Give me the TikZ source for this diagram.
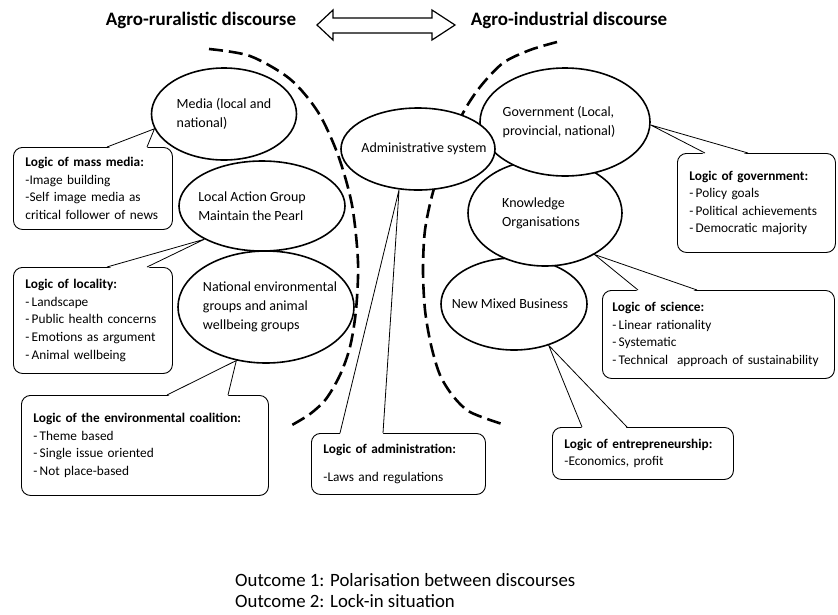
\documentclass[tikz,border=0pt]{standalone}
\usepackage{fontspec}
\setmainfont{Carlito}
\usetikzlibrary{calc,shapes.geometric}

\tikzset{
  party/.style={draw, ellipse, line width=1.6pt, fill=white, inner sep=0pt},
  partytext/.style={align=left, inner sep=0pt, font=\fontsize{14}{19}\selectfont},
  logicbox/.style={draw, line width=0.9pt, rounded corners=9pt, fill=white,
    anchor=north west, align=left, inner xsep=12pt,
    font=\fontsize{13.3}{17.6}\selectfont},
  tipline/.style={line width=0.8pt},
  divide/.style={line width=2.6pt, dash pattern=on 14pt off 6pt},
  discourse/.style={font=\fontsize{19}{23}\selectfont\bfseries},
  outcome/.style={align=left, inner sep=0pt, font=\fontsize{18.8}{21}\selectfont},
}

% pointer of a callout: box, left offset, right offset, tip
\newcommand{\calloutptr}[4]{%
  \fill[white] ($(#1.north west)+(#2,1.5)$) -- (#4) -- ($(#1.north west)+(#3,1.5)$) -- cycle;
  \draw[tipline] ($(#1.north west)+(#2,0)$) -- (#4) -- ($(#1.north west)+(#3,0)$);
}

\begin{document}
\begin{tikzpicture}[x=1pt, y=-1pt]
    \useasboundingbox (0,0) rectangle (838,614);

    % Dashed borders of the two discourses
    \draw[divide] plot[smooth] coordinates {(209,49) (250,56) (290,79) (318,112)
      (338,155) (352,205) (358,262) (356,310) (350,347) (340,375) (326,399)
      (310,414) (292,425)};
    \draw[divide] plot[smooth] coordinates {(557,42) (530,50) (503,63) (480,87)
      (463,113) (447,150) (433,192) (425,230) (423,270) (425,310) (431,345)
      (440,375) (453,396) (470,412) (502,424)};

    % Logic boxes
    \node[logicbox, text width=135pt, minimum height=82pt] (massmedia) at (13,147)
      {\textbf{Logic of mass media:}\\-Image building\\-Self image media as\\critical follower of news};
    \node[logicbox, text width=135pt, minimum height=106pt] (locality) at (13,267)
      {\textbf{Logic of locality:}\\-\,Landscape\\-\,Public health concerns\\-\,Emotions as argument\\-\,Animal wellbeing};
    \node[logicbox, text width=223pt, minimum height=100pt] (coalition) at (21,395)
      {\textbf{Logic of the environmental coalition:}\\-\,Theme based\\-\,Single issue oriented\\-\,Not place-based};
    \node[logicbox, text width=150pt, minimum height=61pt] (administration) at (311,433)
      {\textbf{Logic of administration:}\\[10pt]-Laws and regulations};
    \node[logicbox, text width=157pt, minimum height=52pt] (entrepreneur) at (552,427)
      {\textbf{Logic of entrepreneurship:}\\-Economics, profit};
    \node[logicbox, text width=134pt, minimum height=99pt] (governing) at (677,153)
      {\textbf{Logic of government:}\\-\,Policy goals\\-\,Political achievements\\-\,Democratic majority};
    \node[logicbox, inner xsep=10pt, text width=212pt, minimum height=88pt] (science) at (602,290)
      {\textbf{Logic of science:}\\-\,Linear rationality\\-\,Systematic\\-\,Technical\ \ approach of sustainability};

    % Actors
    \node[party, minimum width=145pt, minimum height=92pt,
      label={[partytext]center:{Media (local and\\national)}}] (media) at (224,114) {};
    \node[party, minimum width=166pt, minimum height=90pt,
      label={[partytext, xshift=-10pt]center:{Local Action Group\\Maintain the Pearl}}] (lag) at (262,206) {};
    \node[party, minimum width=176pt, minimum height=112pt,
      label={[partytext, xshift=4pt]center:{National environmental\\groups and animal\\wellbeing groups}}] (national) at (266,307) {};
    \node[party, minimum width=146pt, minimum height=92pt,
      label={[partytext, xshift=-4pt]center:{New Mixed Business}}] (business) at (514,304) {};
    \node[party, minimum width=154pt, minimum height=106pt,
      label={[partytext, xshift=-4pt]center:{Knowledge\\Organisations}}] (knowledge) at (545,213) {};
    \node[party, minimum width=170pt, minimum height=108pt,
      label={[partytext, xshift=-6pt]center:{Government (Local,\\provincial, national)}}] (government) at (565,122) {};
    \node[party, minimum width=154pt, minimum height=82pt,
      label={[partytext, xshift=6pt]center:{Administrative system}}] (admin) at (418,149) {};

    % Callout pointers
    \calloutptr{massmedia}{94}{134}{media.192}
    \calloutptr{locality}{94}{134}{lag.210}
    \calloutptr{coalition}{146}{207}{national.241}
    \calloutptr{administration}{29}{72}{admin.245}
    \calloutptr{entrepreneur}{30}{75}{business.310}
    \calloutptr{governing}{28}{71}{government.358}
    \calloutptr{science}{36}{95}{knowledge.320}

    % Discourses
    \node[discourse] (rural) at (201,20) {Agro-ruralistic discourse};
    \node[discourse] (industrial) at (569,20) {Agro-industrial discourse};
    \draw[line width=1.2pt, fill=white] (317,25) -- (333,10) -- (333,18) -- (432,18)
      -- (432,10) -- (455,25) -- (432,40) -- (432,33) -- (333,33) -- (333,40) -- cycle;

    % Outcomes
    \node[outcome, anchor=west] (outcomes) at (235,591)
      {Outcome 1: Polarisation between discourses\\Outcome 2: Lock-in situation};
\end{tikzpicture}
\end{document}
